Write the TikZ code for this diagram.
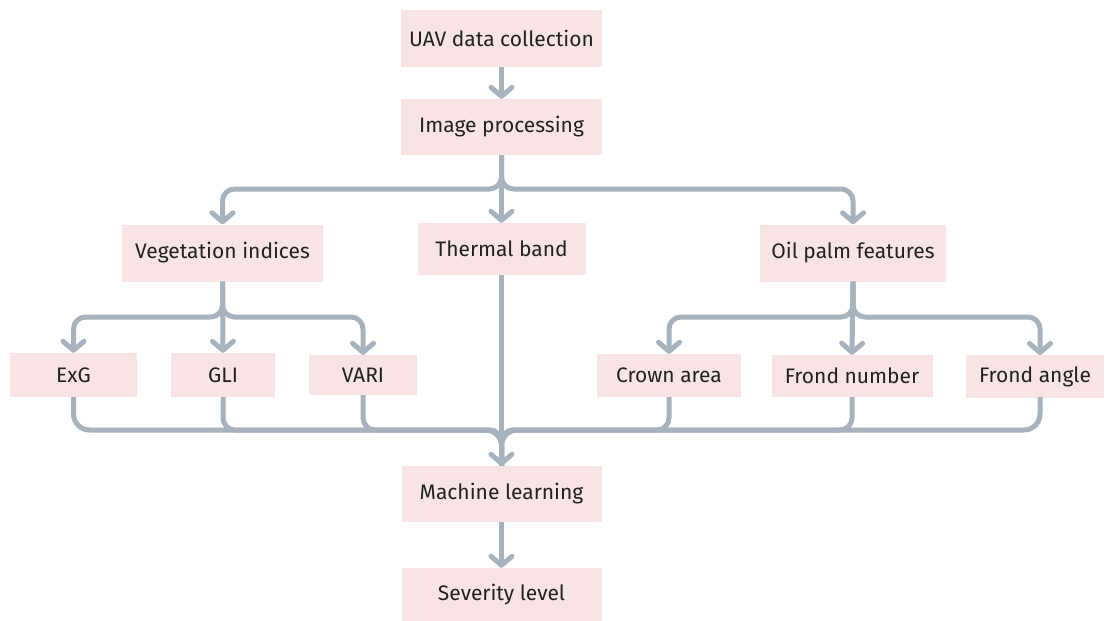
\documentclass[tikz,border=0pt]{standalone}
\usepackage{fontspec}
\setmainfont{Fira Sans}
\usetikzlibrary{arrows.meta}
\definecolor{boxfill}{RGB}{248,228,228}
\definecolor{linkgray}{RGB}{166,178,189}
\definecolor{textdark}{RGB}{34,34,34}
\tikzset{
  box/.style={fill=boxfill, draw=none, inner sep=0pt, text=textdark,
    font=\fontsize{21}{24}\selectfont},
  conn/.style={draw=linkgray, line width=5pt, line join=round},
  tip/.style={-{Straight Barb[length=9pt,width=21pt,round]}},
}
\begin{document}
\begin{tikzpicture}[x=1pt,y=-1pt]
\useasboundingbox (0,0) rectangle (1106,621);

% top chain
\node[box, minimum width=201, minimum height=57] (uav) at (501.5,38.5) {UAV data collection};
\node[box, minimum width=201, minimum height=56] (img) at (501.5,127) {Image processing};

% first level
\node[box, minimum width=201, minimum height=57] (veg) at (222.5,253) {Vegetation indices};
\node[box, minimum width=168, minimum height=52] (th)  at (501.5,249) {Thermal band};
\node[box, minimum width=186, minimum height=57] (oil) at (853,253) {Oil palm features};

% second level
\node[box, minimum width=127, minimum height=44] (exg)   at (73.5,375) {ExG};
\node[box, minimum width=104, minimum height=44] (gli)   at (223,375) {GLI};
\node[box, minimum width=108, minimum height=40] (vari)  at (363,375) {VARI};
\node[box, minimum width=144, minimum height=43] (crown) at (669,375.5) {Crown area};
\node[box, minimum width=161, minimum height=42] (frn)   at (852,376) {Frond number};
\node[box, minimum width=138, minimum height=43] (fra)   at (1035,376.5) {Frond angle};

% bottom chain
\node[box, minimum width=200, minimum height=56] (ml)  at (501.5,494) {Machine learning};
\node[box, minimum width=200, minimum height=53] (sev) at (501.5,594.5) {Severity level};

% split / merge levels
\coordinate (s1) at (501.5,189);
\coordinate (s2l) at (223,317);
\coordinate (s2r) at (853,317);
\coordinate (mg) at (501.5,430);

\draw[conn, tip] (uav.south) -- (img.north);

% split under image processing
\draw[conn, tip, rounded corners=12] (img.south) |- (veg.north |- s1) -- (veg.north);
\draw[conn, tip, rounded corners=12] (img.south) |- (oil.north |- s1) -- (oil.north);
\draw[conn, tip] (img.south) -- (th.north);

% vegetation indices
\draw[conn, tip, rounded corners=12] (veg.south) |- (exg.north |- s2l) -- (exg.north);
\draw[conn, tip, rounded corners=12] (veg.south) |- (vari.north |- s2l) -- (vari.north);
\draw[conn, tip] (veg.south) -- (gli.north);

% oil palm features
\draw[conn, tip, rounded corners=12] (oil.south) |- (crown.north |- s2r) -- (crown.north);
\draw[conn, tip, rounded corners=12] (oil.south) |- (1040,317) -- (1040,355);
\draw[conn, tip] (oil.south) -- (frn.north);

% merge into machine learning
\foreach \n/\r in {exg/16,gli/12,vari/12,crown/12,frn/12}
  \draw[conn, rounded corners=\r] (\n.south) |- (mg) -- (ml.north);
\draw[conn, rounded corners=16] (1040,397) |- (mg) -- (ml.north);
\draw[conn, tip] (th.south) -- (ml.north);

\draw[conn, tip] (ml.south) -- (sev.north);
\end{tikzpicture}
\end{document}
